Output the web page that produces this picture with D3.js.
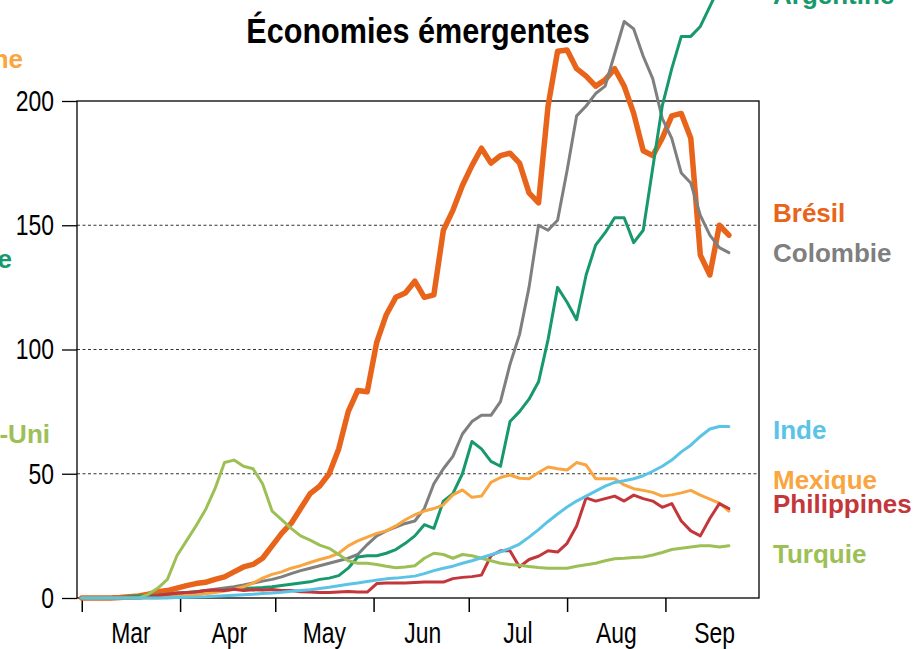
<!DOCTYPE html>
<html>
<head>
<meta charset="utf-8">
<script src="https://cdn.jsdelivr.net/npm/d3@7"></script>
<style>
  body { margin: 0; background: #fff; }
  svg { display: block; }
</style>
</head>
<body>
<svg id="chart" width="918" height="649"></svg>
<script>
// Économies émergentes — one value every 3 days from 1 March 2020

const START = new Date(2020, 2, 1);
const STEP_DAYS = 3;

const MONTH_LABELS = ['Mar', 'Apr', 'May', 'Jun', 'Jul', 'Aug', 'Sep'];
const Y_TICKS = [0, 50, 100, 150, 200];

const BRESIL = [0, 0, 0, 0, 0.2, 0.5, 0.8, 1.5, 2.5, 3, 4, 5, 5.8, 6.3, 7.5, 8.5, 10.5, 12.5, 13.5, 16,
  21, 26, 30, 36, 42, 45, 50, 60, 75, 83.5, 83, 103, 114, 121, 122.7, 127.5, 121, 122, 148, 156,
  166, 174, 181, 175, 178, 179, 175, 163, 159, 198, 220, 220.5, 213, 210, 206, 208.5, 213, 206, 195, 180,
  178, 185, 194, 195, 185, 138, 130, 150, 146];

const COLOMBIE = [0, 0, 0, 0, 0, 0, 0, 0.3, 0.6, 1, 1.5, 2, 2.5, 3, 3.5, 4, 4.5, 5.2, 6, 6.8,
  7.5, 8.5, 9.8, 11, 12, 13, 14, 15, 16, 17.5, 21.5, 25, 27, 28.5, 30, 31, 36, 46, 52, 57,
  66, 71, 73.5, 73.5, 79, 94, 106, 125, 150, 148, 152, 172, 194, 198, 203, 206, 219, 232, 229, 218,
  209, 193, 185, 171, 167, 154, 146, 141, 139];

const ARGENTINE = [0, 0, 0, 0, 0.2, 0.5, 0.8, 1, 1.2, 1.5, 2, 2.2, 2.5, 2.8, 3, 3.2, 3.5, 3.8, 4, 4.2,
  4.5, 5, 5.5, 6, 6.5, 7.5, 8, 9, 12, 16.5, 17, 17, 18, 19.5, 22, 25, 29.5, 28, 39, 42,
  50, 63, 60, 55, 53, 71, 75, 80, 87, 104, 125, 119, 112, 130, 142, 147, 153, 153, 143, 148,
  173, 198, 213, 226, 226, 230, 238, 246, 252];

const MEXIQUE = [0, 0, 0, 0, 0, 0, 0, 0, 0, 0.3, 0.6, 1, 1.3, 1.7, 2.2, 2.8, 3.5, 4.5, 6, 8,
  9.5, 10.5, 12, 13, 14.3, 15.5, 16.5, 18, 21, 23, 24.5, 26, 27, 29, 31.5, 33.5, 35, 36, 37.5, 41.5,
  43.5, 40.5, 41, 46.5, 48.5, 49.5, 48.2, 48, 50.5, 52.7, 52, 51.5, 54.5, 53.5, 48, 48, 48, 45.5, 44, 43.3,
  42.5, 41, 41.5, 42.3, 43.3, 41.4, 39.8, 38.2, 35];

const PHILIPPINES = [0, 0, 0, 0, 0, 0, 0, 0.5, 1, 1.5, 2, 2.2, 2.4, 3, 3.2, 3, 3.5, 3, 3.3, 3.2,
  3.4, 3, 3, 2.5, 2.4, 2.2, 2.2, 2.4, 2.6, 2.4, 2.4, 5.8, 6, 6, 6, 6.2, 6.4, 6.4, 6.4, 7.8,
  8.3, 8.6, 9.2, 17, 19, 19, 12.5, 15.5, 16.8, 19, 18.5, 22, 29, 40.3, 39, 40, 41, 39, 41.4, 40,
  39, 36.5, 38, 31, 27, 25, 32, 38, 36];

const TURQUIE = [0, 0, 0, 0, 0, 0, 0, 1.5, 4, 7.5, 17, 23, 29, 35.5, 44, 54.5, 55.5, 53, 52, 46,
  35, 31.5, 28, 25, 23.3, 21.3, 20, 17.5, 15, 14, 14, 13.5, 12.8, 12.2, 12.5, 13, 16, 18, 17.5, 16,
  17.5, 17, 16, 15, 14, 13.5, 13.2, 12.7, 12.3, 12, 12, 12, 12.8, 13.4, 14, 15, 15.8, 16, 16.3, 16.5,
  17.3, 18.3, 19.5, 20, 20.5, 21, 21, 20.5, 21];

const INDE = [0, 0, 0, 0, 0, 0, 0, 0, 0, 0, 0.2, 0.3, 0.4, 0.5, 0.7, 0.9, 1.1, 1.3, 1.5, 1.8,
  2, 2.3, 2.7, 3, 3.3, 3.8, 4.3, 4.9, 5.5, 6, 6.6, 7.2, 7.7, 8, 8.4, 8.8, 9.8, 11, 12, 12.8,
  14, 15, 16.2, 17.4, 18.6, 20, 21.7, 24.5, 27.5, 30.8, 33.8, 36.6, 39, 41, 43, 45, 46.5, 47.2, 48, 49.2,
  51, 53, 55.5, 58.8, 61.5, 65, 68, 69, 69];

// drawing order: first is at the bottom
const SERIES_NAMES = ['Brésil', 'Colombie', 'Argentine', 'Mexique', 'Philippines', 'Turquie', 'Inde'];
const SERIES_VALUES = [BRESIL, COLOMBIE, ARGENTINE, MEXIQUE, PHILIPPINES, TURQUIE, INDE];

// where each end label sits, in data units (baseline)
const LABEL_VALUES = [151.3, 135.2, 239, 43.9, 34.2, 14.1, 64];

// labels of the neighbouring panel, cut by the left edge
const CUT_LABELS = ['ne', 'e', '-Uni'];
const CUT_LABEL_VALUES = [213.3, 132.8, 62.4];

const COLORS = {
  'Brésil':      '#E8641B',
  'Colombie':    '#7F7F7F',
  'Argentine':   '#18996B',
  'Mexique':     '#F9A540',
  'Philippines': '#C3363A',
  'Turquie':     '#9CC055',
  'Inde':        '#5BC4E6',
};
const CUT_COLORS = ['#F9A540', '#18996B', '#9CC055'];

const WIDTHS = { 'Brésil': 5.5 };

const margin = { left: 77, right: 159, top: 101, bottom: 51 };
const W = 918, H = 649;
const SQUEEZE = 0.85;      // no narrow face installed, so squeeze the regular one
const TICK_SQUEEZE = 0.79;

const svg = d3.select('#chart');

const x = d3.scaleTime()
  .domain([new Date(2020, 1, 28, 12), new Date(2020, 8, 30, 12)])
  .range([margin.left, W - margin.right]);

const y = d3.scaleLinear()
  .domain([0, 200])
  .range([H - margin.bottom, margin.top]);

const dates = BRESIL.map((_, i) => d3.timeDay.offset(START, i * STEP_DAYS));

const FONT = "'Liberation Sans', Arial, sans-serif";

// dotted grid
svg.append('g')
  .selectAll('line')
  .data(Y_TICKS.filter(v => v > 0 && v < 200))
  .join('line')
  .attr('x1', x.range()[0])
  .attr('x2', x.range()[1])
  .attr('y1', d => y(d))
  .attr('y2', d => y(d))
  .attr('stroke', '#333')
  .attr('stroke-width', 1)
  .attr('stroke-dasharray', '3,2.5');

// y axis
const yAxis = svg.append('g')
  .attr('transform', `translate(${margin.left},0)`)
  .call(d3.axisLeft(y).tickValues(Y_TICKS).tickSize(15).tickPadding(8));
yAxis.select('.domain').remove();
yAxis.selectAll('line').attr('stroke', '#000').attr('stroke-width', 1.3);
yAxis.selectAll('text')
  .attr('x', -23 / TICK_SQUEEZE)
  .attr('transform', `scale(${TICK_SQUEEZE},1)`)
  .attr('font-family', FONT)
  .attr('font-size', 29)
  .attr('fill', '#000');

// x axis: ticks at month starts, names in the middle of each month
const monthStarts = x.ticks(d3.timeMonth.every(1));
const xAxis = svg.append('g')
  .attr('transform', `translate(0,${y(0)})`)
  .call(d3.axisBottom(x).tickValues(monthStarts).tickSize(14).tickFormat(''));
xAxis.select('.domain').remove();
xAxis.selectAll('line').attr('stroke', '#000').attr('stroke-width', 1.5);

svg.append('g')
  .selectAll('text')
  .data(monthStarts)
  .join('text')
  .attr('transform', d =>
    `translate(${x(new Date(d.getFullYear(), d.getMonth(), 16, 12))},${y(0) + 45}) scale(${TICK_SQUEEZE},1)`)
  .attr('text-anchor', 'middle')
  .attr('font-family', FONT)
  .attr('font-size', 29)
  .attr('fill', '#000')
  .text((d, i) => MONTH_LABELS[i]);

// frame
svg.append('rect')
  .attr('x', x.range()[0])
  .attr('y', y(200))
  .attr('width', x.range()[1] - x.range()[0])
  .attr('height', y(0) - y(200))
  .attr('fill', 'none')
  .attr('stroke', '#000')
  .attr('stroke-width', 1.3);

// lines (not clipped: Argentine runs out of the frame)
const line = d3.line()
  .x((d, i) => x(dates[i]))
  .y(d => y(d));

svg.append('g')
  .selectAll('path')
  .data(SERIES_NAMES)
  .join('path')
  .attr('d', (name, i) => line(SERIES_VALUES[i]))
  .attr('fill', 'none')
  .attr('stroke', name => COLORS[name])
  .attr('stroke-width', name => WIDTHS[name] || 3)
  .attr('stroke-linejoin', 'round')
  .attr('stroke-linecap', 'round');

// end labels
svg.append('g')
  .selectAll('text')
  .data(SERIES_NAMES)
  .join('text')
  .attr('x', 773)
  .attr('y', (name, i) => y(LABEL_VALUES[i]))
  .attr('font-family', FONT)
  .attr('font-weight', 'bold')
  .attr('font-size', 26)
  .attr('fill', name => COLORS[name])
  .text(d => d);

// cut labels of the panel on the left
svg.append('g')
  .selectAll('text')
  .data(CUT_LABELS)
  .join('text')
  .attr('x', (d, i) => [23, 12, 50][i])
  .attr('y', (d, i) => y(CUT_LABEL_VALUES[i]))
  .attr('text-anchor', 'end')
  .attr('font-family', FONT)
  .attr('font-weight', 'bold')
  .attr('font-size', 26)
  .attr('fill', (d, i) => CUT_COLORS[i])
  .text(d => d);

// title
svg.append('text')
  .attr('transform', `translate(418,43) scale(${SQUEEZE},1)`)
  .attr('text-anchor', 'middle')
  .attr('font-family', FONT)
  .attr('font-weight', 'bold')
  .attr('font-size', 36)
  .attr('fill', '#000')
  .text('Économies émergentes');
</script>
</body>
</html>
